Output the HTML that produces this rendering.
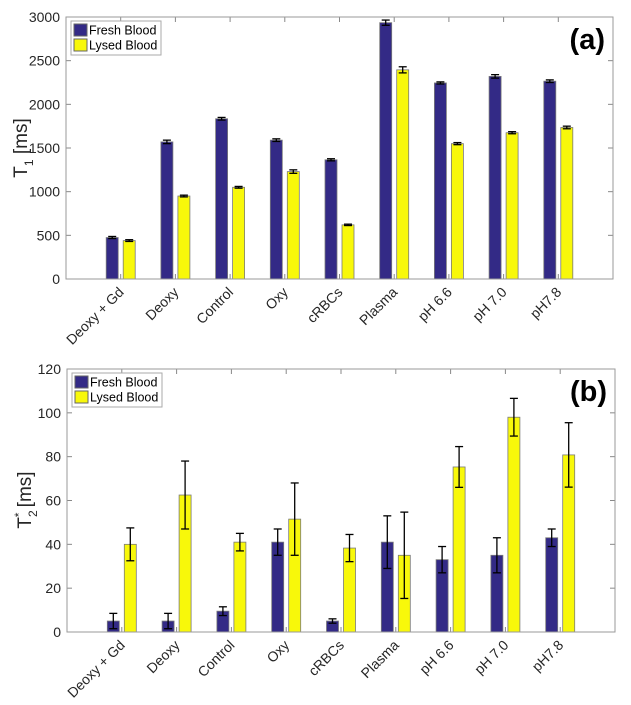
<!DOCTYPE html>
<html><head><meta charset="utf-8"><style>
body{margin:0;background:#fff;}
svg{display:block;font-family:"Liberation Sans",sans-serif;}
</style></head><body>
<svg id="c" width="631" height="705" viewBox="0 0 631 705"></svg>
<script>
const categories=["Deoxy + Gd","Deoxy","Control","Oxy","cRBCs","Plasma","pH 6.6","pH 7.0","pH7.8"];
const t1Fresh=[475,1570,1835,1590,1365,2935,2245,2320,2265];
const t1FreshErr=[12,20,15,15,12,30,12,20,15];
const t1Lysed=[440,950,1050,1230,620,2395,1550,1675,1735];
const t1LysedErr=[10,10,10,20,8,35,12,12,15];
const t1Ticks=[0,500,1000,1500,2000,2500,3000];
const t2Fresh=[5,5,9.5,41,5,41,33,35,43];
const t2FreshErr=[3.5,3.5,2,6,1,12,6,8,4];
const t2Lysed=[40,62.5,41,51.5,38.3,35,75.3,98,80.8];
const t2LysedErr=[7.5,15.5,4,16.5,6.2,19.7,9.3,8.6,14.7];
const t2Ticks=[0,20,40,60,80,100,120];

const NS="http://www.w3.org/2000/svg";
const svg=document.getElementById('c');
function mk(tag,attrs,parent,text){const e=document.createElementNS(NS,tag);for(const k in attrs)e.setAttribute(k,attrs[k]);if(text!==undefined)e.textContent=text;(parent||svg).appendChild(e);return e;}

function panel(cfg){
  const g=mk('g',{});
  
  
  const L=cfg.left,R=cfg.right,T=cfg.top,B=cfg.bottom,ymax=cfg.ymax;
  const x=i=>L+(R-L)*(i+1)/10;
  const y=v=>B-(B-T)*v/ymax;
  cfg.ticks.forEach(t=>{
    const tl=mk('text',{x:L-6,y:y(t)+5,'text-anchor':'end','font-size':'14',fill:'#262626'},g,String(t));
    
    
    if(t>0&&t<ymax){mk('line',{x1:L,x2:L+5,y1:y(t),y2:y(t),stroke:'#888'},g);mk('line',{x1:R-5,x2:R,y1:y(t),y2:y(t),stroke:'#888'},g);}
  });
  categories.forEach((c,i)=>{
    mk('line',{x1:x(i),x2:x(i),y1:B,y2:B-5,stroke:'#888'},g);
    mk('line',{x1:x(i),x2:x(i),y1:T,y2:T+5,stroke:'#888'},g);
    const tx=mk('text',{x:0,y:0,'text-anchor':'end','font-size':'14',fill:'#262626',transform:`translate(${x(i)+4},${B+14}) rotate(-45)`},g,c);
    
    
  });
  const bw=12,off=8.5;
  function bars(vals,errs,color,off2,nm){
    vals.forEach((v,i)=>{
      const cx=x(i)+off2;
      const r=mk('rect',{x:cx-bw/2,y:y(v),width:bw,height:B-y(v),fill:color,stroke:'#7a7a7a','stroke-width':'0.8'},g);
      
      
      const e=errs[i];
      const eg=mk('g',{stroke:'#000','stroke-width':'1.3'},g);
      
      
      mk('line',{x1:cx,x2:cx,y1:y(v+e),y2:y(v-e)},eg);
      mk('line',{x1:cx-4,x2:cx+4,y1:y(v+e),y2:y(v+e)},eg);
      mk('line',{x1:cx-4,x2:cx+4,y1:y(v-e),y2:y(v-e)},eg);
    });
  }
  bars(cfg.fresh,cfg.freshErr,'#332a86',-off,'fresh-blood');
  bars(cfg.lysed,cfg.lysedErr,'#f8f80a',off,'lysed-blood');
  const ax=mk('rect',{x:L,y:T,width:R-L,height:B-T,fill:'none',stroke:'#9a9a9a','stroke-width':'1'},g);
  
  
  const lg=mk('g',{},g);
  
  
  mk('rect',{x:L+5,y:T+4,width:90,height:34,fill:'#fff',stroke:'#aaa'},lg);
  mk('rect',{x:L+8,y:T+7,width:13,height:12,fill:'#332a86',stroke:'#666'},lg);
  mk('rect',{x:L+8,y:T+22,width:13,height:12,fill:'#f8f80a',stroke:'#666'},lg);
  const e1=mk('text',{x:L+23,y:T+17.5,'font-size':'12.5',fill:'#000'},lg,'Fresh Blood');
  
  
  const e2=mk('text',{x:L+23,y:T+32.5,'font-size':'12.5',fill:'#000'},lg,'Lysed Blood');
  
  
  const pl=mk('text',{x:R-8,y:T+32,'text-anchor':'end','font-size':'29','font-weight':'bold',fill:'#000'},g,cfg.label);
  
  
  return {g,L,T,B};
}
const a=panel({name:'t1-panel',left:66,right:613,top:17,bottom:279,ymax:3000,ticks:t1Ticks,fresh:t1Fresh,freshErr:t1FreshErr,lysed:t1Lysed,lysedErr:t1LysedErr,label:'(a)'});
const ya=mk('text',{transform:'translate(27,148) rotate(-90)','text-anchor':'middle','font-size':'19',fill:'#262626'},a.g);


ya.innerHTML='T<tspan font-size="12" dy="6">1</tspan><tspan dy="-6"> [ms]</tspan>';
const b=panel({name:'t2star-panel',left:67,right:615,top:369,bottom:632,ymax:120,ticks:t2Ticks,fresh:t2Fresh,freshErr:t2FreshErr,lysed:t2Lysed,lysedErr:t2LysedErr,label:'(b)'});
const yb=mk('text',{transform:'translate(31,500) rotate(-90)','text-anchor':'middle','font-size':'19',fill:'#262626'},b.g);


yb.innerHTML='T<tspan font-size="12" dy="6">2</tspan><tspan font-size="12" dx="-7" dy="-14">*</tspan><tspan dy="8"> [ms]</tspan>';
</script>
</body></html>
